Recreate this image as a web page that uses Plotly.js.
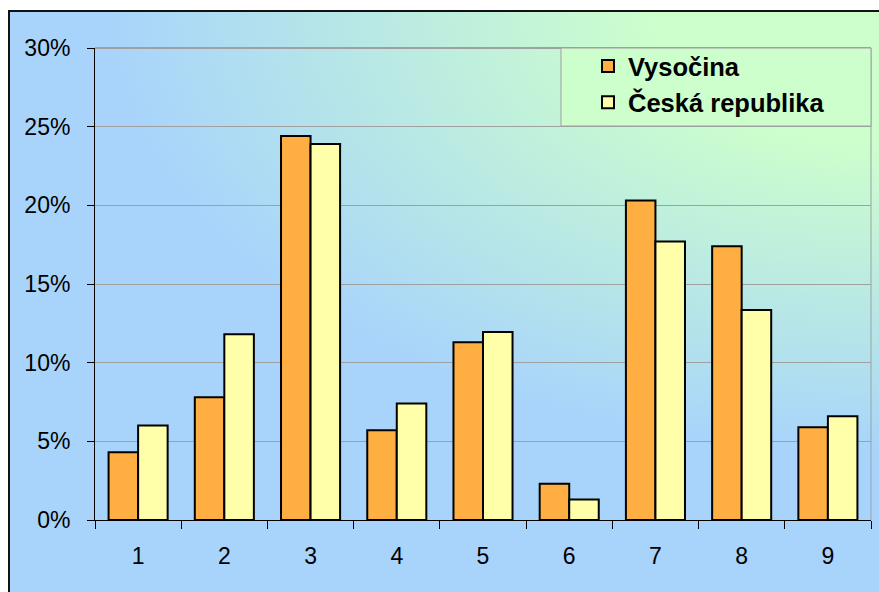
<!DOCTYPE html>
<html>
<head>
<meta charset="utf-8">
<script src="https://cdn.plot.ly/plotly-3.0.1.min.js"></script>
<style>
  html, body { margin: 0; padding: 0; background: #ffffff; }
  #wrap { position: relative; width: 879px; height: 592px; overflow: hidden; background: #ffffff; }
  #bg { position: absolute; left: 8px; top: 10px; width: 900px; height: 600px;
        border-left: 2px solid #111; border-top: 2px solid #111;
        background: radial-gradient(ellipse 780px 440px at 880px 0px, #ccffcc 0%, #ccffcc 30%, #a8d4fb 100%); }
  #chart { position: absolute; left: 0; top: 0; width: 879px; height: 592px; }
</style>
</head>
<body>
<div id="wrap">
  <div id="bg"></div>
  <div id="chart"></div>
</div>
<script>
const categories = ['1', '2', '3', '4', '5', '6', '7', '8', '9'];
const vysocina = [4.3, 7.8, 24.4, 5.7, 11.3, 2.3, 20.3, 17.4, 5.9];
const ceskaRepublika = [6.0, 11.8, 23.9, 7.4, 11.95, 1.3, 17.7, 13.35, 6.6];
const yTickVals = [0, 5, 10, 15, 20, 25, 30];
const yTickText = ['0%', '5%', '10%', '15%', '20%', '25%', '30%'];

const traces = [
  {
    type: 'bar', name: 'Vysočina', x: categories, y: vysocina,
    legendgroup: 'a',
    marker: { color: '#ffae42', line: { color: '#000000', width: 2 } },
    hoverinfo: 'x+y'
  },
  {
    type: 'bar', name: 'Česká republika', x: categories, y: ceskaRepublika,
    legendgroup: 'b',
    marker: { color: '#ffffaa', line: { color: '#000000', width: 2 } },
    hoverinfo: 'x+y'
  }
];

const layout = {
  width: 879, height: 592,
  margin: { l: 95, r: 8, t: 48, b: 72, pad: 0 },
  paper_bgcolor: 'rgba(0,0,0,0)',
  plot_bgcolor: 'rgba(0,0,0,0)',
  font: { family: 'Liberation Sans, Arial, sans-serif', color: '#000000', size: 23 },
  barmode: 'group',
  bargap: 0.315,
  bargroupgap: 0,
  xaxis: {
    type: 'category',
    showline: true, linecolor: '#000000', linewidth: 1,
    ticks: 'outside', ticklen: 8, tickcolor: '#000000', tickwidth: 1,
    tickson: 'boundaries',
    showgrid: false, zeroline: false,
    ticklabelstandoff: 15,
    tickfont: { size: 23 }
  },
  yaxis: {
    range: [0, 30],
    tickvals: yTickVals, ticktext: yTickText,
    showline: true, linecolor: '#000000', linewidth: 1,
    ticks: 'outside', ticklen: 7, tickcolor: '#000000', tickwidth: 1,
    showgrid: true, gridcolor: '#a0a0a0', gridwidth: 1,
    zeroline: false,
    ticklabelstandoff: 12,
    tickfont: { size: 23 }
  },
  showlegend: true,
  legend: {
    x: 0.6353, xanchor: 'left', y: 1.0106, yanchor: 'top',
    bgcolor: 'rgba(0,0,0,0)', borderwidth: 0,
    traceorder: 'grouped', tracegroupgap: 0,
    font: { size: 25.5, family: 'Liberation Sans, Arial, sans-serif', weight: 'bold', color: '#000000' }
  },
  shapes: [
    { type: 'rect', xref: 'paper', yref: 'paper', x0: 0.6005, x1: 1, y0: 0.8347, y1: 1,
      fillcolor: '#ccffcc', line: { color: '#a0a0a0', width: 1 }, layer: 'above' },
    { type: 'line', xref: 'paper', yref: 'paper', x0: 1, x1: 1, y0: 0, y1: 1,
      line: { color: '#a0a0a0', width: 1 }, layer: 'below' },
    { type: 'line', xref: 'paper', yref: 'paper', x0: 0, x1: 1, y0: 1, y1: 1,
      line: { color: '#a0a0a0', width: 2 }, layer: 'below' }
  ]
};

Plotly.newPlot('chart', traces, layout, { displayModeBar: false, staticPlot: true });
</script>
</body>
</html>
